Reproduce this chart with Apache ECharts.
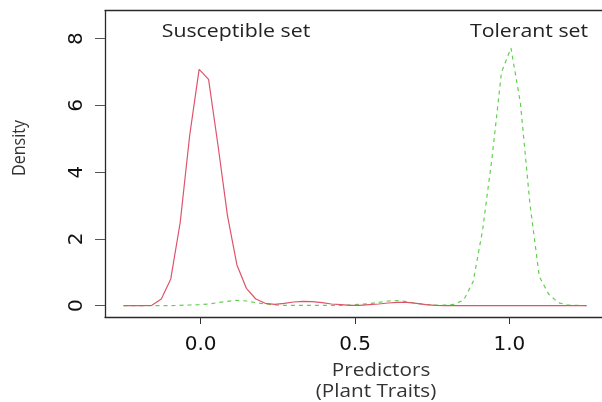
<!DOCTYPE html>
<html>
<head>
<meta charset="utf-8">
<script src="https://cdn.jsdelivr.net/npm/echarts@6/dist/echarts.min.js"></script>
<style>
html, body { margin: 0; padding: 0; background: #fff; }
#main { width: 602px; height: 402px; }
</style>
</head>
<body>
<div id="main"></div>
<script>
// density estimates on a 50 point grid from -0.25 to 1.25
var gridFrom = -0.25;
var gridTo = 1.25;
var susceptible = [
    0, 0, 0, 0.01, 0.2, 0.8, 2.5, 5.1, 7.08, 6.78,
    4.8, 2.7, 1.22, 0.52, 0.2, 0.07, 0.04, 0.07, 0.11, 0.13,
    0.12, 0.09, 0.05, 0.03, 0.01, 0.01, 0.03, 0.05, 0.08, 0.1,
    0.1, 0.07, 0.03, 0.01, 0, 0, 0, 0, 0, 0,
    0, 0, 0, 0, 0, 0, 0, 0, 0, 0
];
var tolerant = [
    0, 0, 0, 0, 0, 0, 0.01, 0.02, 0.03, 0.05,
    0.09, 0.13, 0.16, 0.14, 0.09, 0.05, 0.02, 0.01, 0.01, 0.01,
    0.01, 0.01, 0.01, 0.01, 0.02, 0.04, 0.06, 0.1, 0.14, 0.15,
    0.12, 0.07, 0.03, 0.02, 0.02, 0.04, 0.17, 0.72, 2.27, 4.44,
    7.0, 7.72, 6.07, 3.07, 0.87, 0.34, 0.09, 0.02, 0.01, 0
];
var xTicks = [0, 0.5, 1.0];
var yTicks = [0, 2, 4, 6, 8];

function toPairs(vals) {
    var step = (gridTo - gridFrom) / (vals.length - 1);
    return vals.map(function (v, i) {
        return [gridFrom + i * step, v];
    });
}

var myChart = echarts.init(document.getElementById('main'));

var boxLine = { show: true, onZero: false, lineStyle: { color: '#2a2a2a', width: 1.3 } };

// the source picture is a little wider than tall, so text is stretched
function label(txt, x, y, size, color, extra) {
    var el = {
        type: 'text', x: x, y: y, scaleX: 1.15,
        style: {
            text: txt, fontFamily: 'Open Sans', fontSize: size,
            fill: color, textAlign: 'center', textVerticalAlign: 'middle'
        }
    };
    return Object.assign(el, extra || {});
}

var option = {
    animation: false,
    grid: {
        left: 105,
        top: 10.7,
        right: 0,
        bottom: 85
    },
    xAxis: [
        {
            type: 'value',
            min: -0.31,
            max: 1.30,
            splitLine: { show: false },
            axisLine: boxLine,
            axisTick: {
                show: true,
                length: 7,
                customValues: xTicks,
                lineStyle: { color: '#333' }
            },
            axisLabel: {
                customValues: xTicks,
                margin: 18,
                fontFamily: 'DejaVu Sans',
                fontSize: 20,
                color: '#111',
                formatter: function (v) { return v.toFixed(1); }
            }
        },
        {
            // top edge of the box only
            type: 'value',
            position: 'top',
            min: -0.31,
            max: 1.30,
            splitLine: { show: false },
            axisLine: boxLine,
            axisTick: { show: false },
            axisLabel: { show: false }
        }
    ],
    yAxis: {
        type: 'value',
        min: -0.34,
        max: 8.84,
        splitLine: { show: false },
        axisLine: boxLine,
        axisTick: {
            show: true,
            length: 10,
            customValues: yTicks,
            lineStyle: { color: '#555' }
        },
        axisLabel: {
            customValues: yTicks,
            rotate: 90,
            margin: 18,
            fontFamily: 'DejaVu Sans',
            fontSize: 20,
            color: '#111'
        }
    },
    graphic: [
        label('Susceptible set', 236, 32, 18.5, '#222'),
        label('Tolerant set', 529, 32, 18.5, '#222'),
        label('Density', 20, 148, 16, '#333', { scaleX: 1, scaleY: 1.15, rotation: Math.PI / 2 }),
        label('Predictors', 381, 371, 18, '#333'),
        label('(Plant Traits)', 376, 392, 18, '#333')
    ],
    series: [
        {
            name: 'Susceptible set',
            type: 'line',
            data: toPairs(susceptible),
            showSymbol: false,
            lineStyle: { color: '#DF536B', width: 1.2 },
            z: 3
        },
        {
            name: 'Tolerant set',
            type: 'line',
            data: toPairs(tolerant),
            showSymbol: false,
            lineStyle: { color: '#61D04F', width: 1.2, type: [4, 4] },
            z: 2
        }
    ]
};

myChart.setOption(option);
</script>
</body>
</html>
